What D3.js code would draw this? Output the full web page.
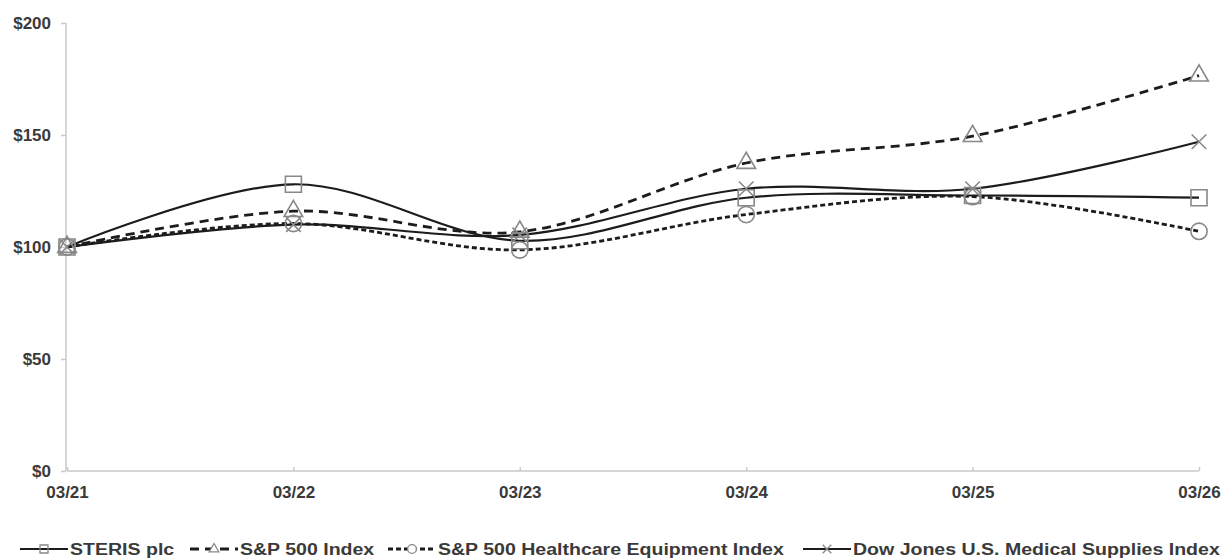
<!DOCTYPE html>
<html>
<head>
<meta charset="utf-8">
<script src="https://cdn.jsdelivr.net/npm/d3@7"></script>
<style>
  body { margin: 0; background: #fff; }
  text { font-family: "Liberation Sans", Arial, sans-serif; font-weight: bold; fill: #3a3a3a; }
</style>
</head>
<body>
<div id="chart"></div>
<script>
// five-year cumulative total return, $100 invested 03/21
const PERIODS = ["03/21", "03/22", "03/23", "03/24", "03/25", "03/26"];
const Y_TICKS = [0, 50, 100, 150, 200];

const STERIS     = [100, 128, 102.8, 122, 123, 122];
const SP500      = [100, 116, 106.8, 137.5, 149.5, 176.5];
const SP_HC_EQ   = [100, 110.5, 98.7, 114.5, 122.5, 107];
const DJ_MEDSUP  = [100, 110, 105.4, 126, 126, 147];

const SERIES = [
  { name: "STERIS plc",                             values: STERIS,    dash: null,  width: 2.2, symbol: d3.symbolSquare,   size: 256, lsize: 64 },
  { name: "S&P 500 Index",                          values: SP500,     dash: "9 6", width: 2.8, symbol: d3.symbolTriangle, size: 150, lsize: 40 },
  { name: "S&P 500 Healthcare Equipment Index",     values: SP_HC_EQ,  dash: "5 3", width: 2.8, symbol: d3.symbolCircle,   size: 210, lsize: 60 },
  { name: "Dow Jones U.S. Medical Supplies Index",  values: DJ_MEDSUP, dash: null,  width: 2.2, symbol: d3.symbolX,        size: 140, lsize: 50 },
];
const LEGEND_X = [20, 190, 388, 803];

const totalW = 1227, totalH = 560;

const svg = d3.select("#chart").append("svg")
  .attr("width", totalW).attr("height", totalH);

/* ── Scales ── */
const x = d3.scalePoint().domain(PERIODS).range([67, 1199]);
const y = d3.scaleLinear().domain([0, 200]).range([471, 23]);

/* ── Axes ── */
svg.append("g").attr("transform", "translate(66,0)")
  .call(d3.axisLeft(y).tickValues(Y_TICKS).tickSize(5).tickPadding(10).tickFormat(d => "$" + d))
  .call(ax => ax.selectAll("line, .domain").attr("stroke", "#c9c9c9").attr("stroke-width", 1.5))
  .call(ax => ax.select(".domain").attr("d", `M0,${y(200)}V${y(0)}`))
  .selectAll("text").attr("font-size", 17).attr("fill", "#3a3a3a")
  .attr("font-family", "Liberation Sans, Arial, sans-serif").attr("font-weight", "bold");

svg.append("g").attr("transform", `translate(0,${y(0)})`)
  .call(d3.axisBottom(x).tickSize(-4).tickPadding(15))
  .call(ax => ax.selectAll("line, .domain").attr("stroke", "#c9c9c9").attr("stroke-width", 1.5))
  .call(ax => ax.select(".domain").attr("d", `M${x(PERIODS[0])},0H${x(PERIODS[PERIODS.length - 1])}`))
  .selectAll("text").attr("font-size", 17).attr("fill", "#3a3a3a")
  .attr("font-family", "Liberation Sans, Arial, sans-serif").attr("font-weight", "bold");

/* ── Lines ── */
const line = d3.line()
  .x((d, i) => x(PERIODS[i]))
  .y(d => y(d))
  .curve(d3.curveCardinal.tension(0));

SERIES.forEach(s => {
  svg.append("path")
    .attr("d", line(s.values))
    .attr("fill", "none")
    .attr("stroke", "#1c1c1c")
    .attr("stroke-width", s.width)
    .attr("stroke-dasharray", s.dash);
});

/* ── Markers ── */
SERIES.forEach(s => {
  svg.append("g").selectAll("path")
    .data(s.values)
    .join("path")
    .attr("transform", (d, i) => `translate(${x(PERIODS[i])},${y(d)})`)
    .attr("d", d3.symbol(s.symbol, s.size))
    .attr("fill", "none")
    .attr("stroke", "#888")
    .attr("stroke-width", 1.6);
});

/* ── Legend ── */
const legend = svg.append("g").attr("transform", "translate(0,549)");
SERIES.forEach((s, i) => {
  const item = legend.append("g").attr("transform", `translate(${LEGEND_X[i]},0)`);
  item.append("line")
    .attr("x1", 0).attr("x2", 48)
    .attr("stroke", "#1c1c1c").attr("stroke-width", s.width)
    .attr("stroke-dasharray", s.dash);
  item.append("path")
    .attr("transform", "translate(24,0)")
    .attr("d", d3.symbol(s.symbol, s.lsize))
    .attr("fill", s.dash ? "#fff" : "none")
    .attr("stroke", "#888").attr("stroke-width", 1.3);
  item.append("text")
    .attr("transform", "translate(50,6) scale(1.15,1)")
    .attr("font-size", 17)
    .text(s.name);
});
</script>
</body>
</html>
